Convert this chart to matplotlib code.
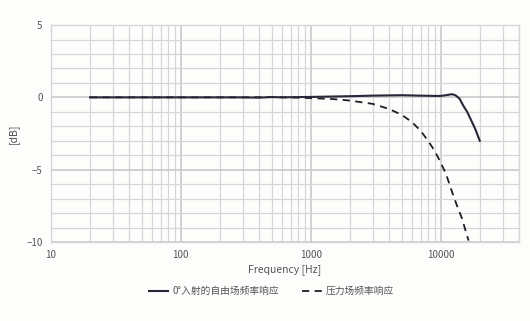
import matplotlib
matplotlib.use("Agg")
import matplotlib.pyplot as plt
from matplotlib.ticker import FixedLocator, NullFormatter, LogLocator

plt.rcParams['font.family'] = ['Noto Sans CJK SC', 'DejaVu Sans']

# free field, 0 deg incidence
free_f = [20, 300, 400, 500, 600, 800, 1000, 2000, 3000, 5000, 7000, 9000,
          10000, 11000, 12200, 13000, 14000, 15000, 16000, 17000, 18500, 20000]
free_db = [0, 0, -0.02, 0.02, 0, 0.02, 0.03, 0.08, 0.12, 0.15, 0.12, 0.1,
           0.1, 0.15, 0.22, 0.15, -0.1, -0.6, -1.0, -1.5, -2.2, -3.0]

# pressure field
pres_f = [20, 300, 500, 800, 1000, 1500, 2000, 3000, 4000, 5000, 6000, 7000,
          8000, 9000, 10000, 11000, 12200, 13500, 14500, 16400]
pres_db = [0, 0, 0.02, -0.02, -0.05, -0.12, -0.22, -0.45, -0.8, -1.2, -1.7, -2.3,
           -3.0, -3.7, -4.5, -5.3, -6.5, -7.6, -8.3, -9.9]

labels = ['0°入射的自由场频率响应', '压力场频率响应']
bg = '#fdfdfb'
grid_c = '#d6d6d6'
txt_c = '#555555'

fig = plt.figure(figsize=(5.3, 3.21), dpi=100, facecolor=bg)
ax = fig.add_axes([0.096, 0.246, 0.883, 0.676], facecolor=bg)

ax.plot(pres_f, pres_db, color='#1e1e28', lw=1.3, ls=(0, (4, 3)), label=labels[1])
ax.plot(free_f, free_db, color='#262838', lw=1.5, label=labels[0])

ax.set_xscale('log')
ax.set_xlim(10, 40000)
ax.set_ylim(-10, 5)
ax.xaxis.set_major_locator(FixedLocator([10, 100, 1000, 10000]))
ax.xaxis.set_minor_locator(LogLocator(base=10, subs=range(2, 10)))
ax.xaxis.set_minor_formatter(NullFormatter())
ax.set_xticklabels(['10', '100', '1000', '10000'])
ax.set_yticks([-10, -5, 0, 5])
ax.set_yticks(range(-10, 6), minor=True)

ax.grid(which='major', color='#c6c6c6', lw=1.1)
ax.grid(which='minor', color=grid_c, lw=0.9)
ax.set_axisbelow(True)
ax.tick_params(which='both', length=0, labelsize=7, colors=txt_c, pad=6)

for s in ax.spines.values():
    s.set_color(grid_c)
    s.set_linewidth(1.0)

ax.set_xlabel('Frequency [Hz]', fontsize=7.5, color=txt_c, labelpad=3)
ax.set_ylabel('[dB]', fontsize=7.5, color=txt_c, labelpad=5)

h, l = ax.get_legend_handles_labels()
fig.legend(h[::-1], l[::-1], loc='center', bbox_to_anchor=(0.512, 0.093), ncol=2,
           frameon=False, fontsize=7, labelcolor=txt_c, handlelength=2.0,
           columnspacing=2.4, handletextpad=0.4)

fig.savefig('out.png', dpi=100, facecolor=bg)
